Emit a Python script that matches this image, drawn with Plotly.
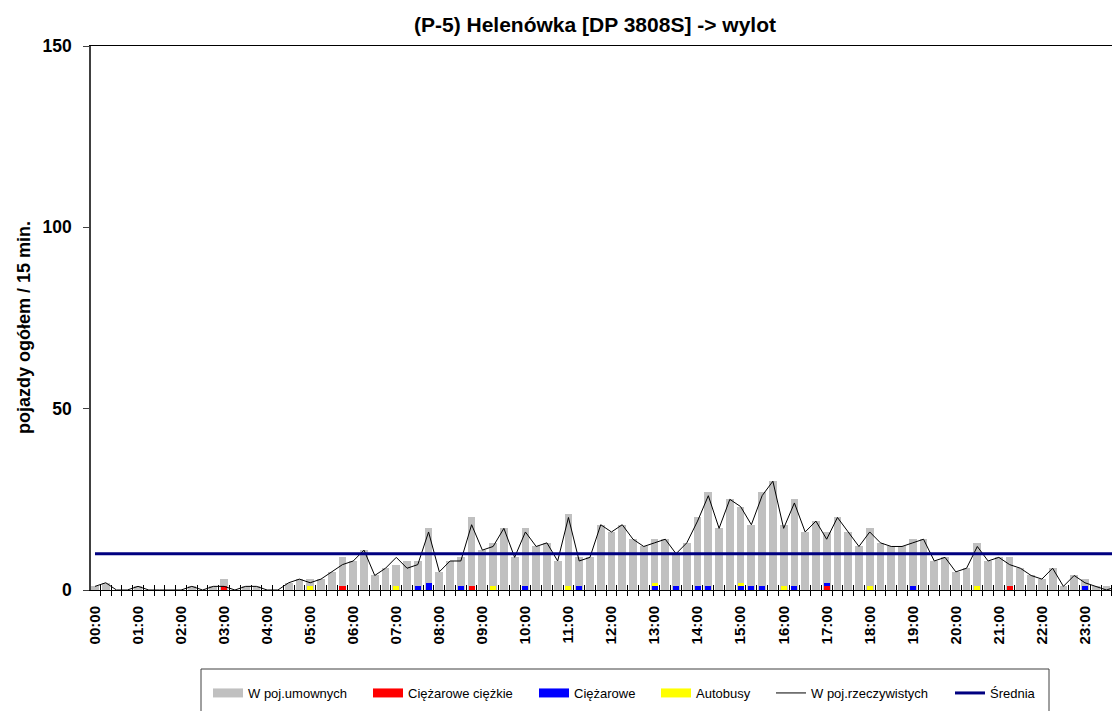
import plotly.graph_objects as go

# ---- data (15-minute intervals, 96 slots) ----
hour_labels = [f"{h:02d}:00" for h in range(24)]

# W poj.umownych (bars)
umowne = [
    1, 2, 0, 0, 1, 0, 0, 0, 0, 1, 0, 1,
    3, 0, 1, 1, 0, 0, 2, 3, 3, 3, 5, 9,
    8, 11, 4, 6, 7, 8, 8, 17, 5, 8, 9, 20,
    11, 13, 17, 9, 17, 12, 13, 8, 21, 9, 9, 18,
    16, 18, 14, 12, 14, 14, 10, 13, 20, 27, 17, 25,
    23, 18, 27, 30, 18, 25, 16, 19, 16, 20, 16, 12,
    17, 13, 12, 12, 14, 14, 8, 9, 5, 6, 13, 8,
    9, 9, 6, 4, 3, 6, 1, 4, 3, 1, 1, 1,
]
# W poj.rzeczywistych (line)
rzeczywiste = [
    1, 2, 0, 0, 1, 0, 0, 0, 0, 1, 0, 1,
    1, 0, 1, 1, 0, 0, 2, 3, 2, 3, 5, 7,
    8, 11, 4, 6, 9, 6, 7, 16, 5, 8, 8, 18,
    11, 12, 17, 9, 16, 12, 13, 8, 20, 8, 9, 18,
    16, 18, 14, 12, 13, 14, 10, 13, 19, 26, 17, 25,
    23, 18, 26, 30, 17, 24, 16, 19, 14, 20, 16, 12,
    16, 13, 12, 12, 13, 14, 8, 9, 5, 6, 12, 8,
    9, 7, 6, 4, 3, 6, 1, 4, 2, 1, 0, 1,
]
# Ciężarowe ciężkie
ciezkie = [
    0, 0, 0, 0, 0, 0, 0, 0, 0, 0, 0, 0,
    1, 0, 0, 0, 0, 0, 0, 0, 0, 0, 0, 1,
    0, 0, 0, 0, 0, 0, 0, 0, 0, 0, 0, 1,
    0, 0, 0, 0, 0, 0, 0, 0, 0, 0, 0, 0,
    0, 0, 0, 0, 0, 0, 0, 0, 0, 0, 0, 0,
    0, 0, 0, 0, 0, 0, 0, 0, 1, 0, 0, 0,
    0, 0, 0, 0, 0, 0, 0, 0, 0, 0, 0, 0,
    0, 1, 0, 0, 0, 0, 0, 0, 0, 0, 0, 0,
]
# Ciężarowe
ciezarowe = [
    0, 0, 0, 0, 0, 0, 0, 0, 0, 0, 0, 0,
    0, 0, 0, 0, 0, 0, 0, 0, 0, 0, 0, 0,
    0, 0, 0, 0, 0, 0, 1, 2, 0, 0, 1, 0,
    0, 0, 0, 0, 1, 0, 0, 0, 0, 1, 0, 0,
    0, 0, 0, 0, 1, 0, 1, 0, 1, 1, 0, 0,
    1, 1, 1, 0, 0, 1, 0, 0, 1, 0, 0, 0,
    0, 0, 0, 0, 1, 0, 0, 0, 0, 0, 0, 0,
    0, 0, 0, 0, 0, 0, 0, 0, 1, 0, 0, 0,
]
# Autobusy
autobusy = [
    0, 0, 0, 0, 0, 0, 0, 0, 0, 0, 0, 0,
    0, 0, 0, 0, 0, 0, 0, 0, 1, 0, 0, 0,
    0, 0, 0, 0, 1, 0, 0, 0, 0, 0, 0, 0,
    0, 1, 0, 0, 0, 0, 0, 0, 1, 0, 0, 0,
    0, 0, 0, 0, 1, 0, 0, 0, 0, 0, 0, 0,
    1, 0, 0, 0, 1, 0, 0, 0, 0, 0, 0, 0,
    1, 0, 0, 0, 0, 0, 0, 0, 0, 0, 1, 0,
    0, 0, 0, 0, 0, 0, 0, 0, 0, 0, 0, 0,
]
srednia = 10.0
y_ticks = [0, 50, 100, 150]

title_text = "(P-5) Helenówka [DP 3808S] -> wylot"
y_title = "pojazdy ogółem / 15 min."
legend_names = ["W poj.umownych", "Ciężarowe ciężkie", "Ciężarowe", "Autobusy",
                "W poj.rzeczywistych", "Średnia"]

# ---- styling / layout constants ----
FONT = "Liberation Sans, Arial, sans-serif"
GRAY, RED, BLUE, YELLOW, NAVY = "#C0C0C0", "#FF0000", "#0000FF", "#FFFF00", "#000080"
OFF = 8                      # page body margin
W, H = 1120 - OFF, 711 - OFF
PL, PT, PB = 91, 46, 590     # plot area in page pixels (left, top, bottom)
PR = 1120
PW, PH = PR - PL, PB - PT


def px(xp):   # page x -> paper x
    return (xp - PL) / PW


def py(yp):   # page y -> paper y
    return (PB - yp) / PH


n = len(umowne)
x = list(range(n))
base_blue = ciezkie
base_yellow = [a + b for a, b in zip(ciezkie, ciezarowe)]

fig = go.Figure()
fig.add_trace(go.Bar(x=x, y=umowne, width=0.72, marker=dict(color=GRAY, line_width=0),
                     name=legend_names[0], showlegend=False))
fig.add_trace(go.Bar(x=x, y=ciezkie, width=0.56, marker=dict(color=RED, line_width=0),
                     name=legend_names[1], showlegend=False))
fig.add_trace(go.Bar(x=x, y=ciezarowe, base=base_blue, width=0.56,
                     marker=dict(color=BLUE, line_width=0), name=legend_names[2], showlegend=False))
fig.add_trace(go.Bar(x=x, y=autobusy, base=base_yellow, width=0.56,
                     marker=dict(color=YELLOW, line_width=0), name=legend_names[3], showlegend=False))
fig.add_trace(go.Scatter(x=x, y=rzeczywiste, mode="lines", line=dict(color="black", width=1),
                         name=legend_names[4], showlegend=False))
fig.add_trace(go.Scatter(x=x, y=[srednia] * n, mode="lines", line=dict(color=NAVY, width=3),
                         name=legend_names[5], showlegend=False))

# legend entries (wide swatches like the original), one positioned legend each
leg_colors = [GRAY, RED, BLUE, YELLOW, "black", NAVY]
leg_widths = [9, 9, 9, 9, 1, 3]
leg_starts = [215, 375, 541, 663, 778, 957]   # swatch start, page px
legends = {}
for k, (name, color, w, xs) in enumerate(zip(legend_names, leg_colors, leg_widths, leg_starts)):
    key = "legend" if k == 0 else f"legend{k + 1}"
    fig.add_trace(go.Scatter(x=[None], y=[None], mode="lines", line=dict(color=color, width=w),
                             name=name, showlegend=True, legend=key))
    legends[key] = dict(orientation="h", x=px(xs - 7), xanchor="left",
                        y=py(678), yanchor="top", bgcolor="rgba(0,0,0,0)", borderwidth=0,
                        font=dict(size=13, family=FONT, color="black"), itemwidth=30)

# helper trace for inner tick marks
fig.add_trace(go.Scatter(x=[None], y=[None], xaxis="x2", showlegend=False, hoverinfo="skip"))

xr = [-0.372, 95.26]
boundaries = [i + 0.5 for i in range(n - 1)]

fig.update_layout(
    width=W, height=H,
    margin=dict(l=PL - OFF, r=0, t=PT - OFF, b=H - (PB - OFF), pad=0),
    paper_bgcolor="white", plot_bgcolor="white",
    barmode="overlay", bargap=0,
    font=dict(family=FONT, color="black"),
    title=dict(text="<b>" + title_text + "</b>", font=dict(size=21, family=FONT, color="black"),
               x=(595 - OFF) / W, xref="container", xanchor="center",
               y=1 - (25 - OFF) / H, yref="container", yanchor="middle"),
    xaxis=dict(range=xr, showgrid=False, zeroline=False,
               showline=True, linecolor="black", linewidth=1, mirror=True,
               tickmode="array", tickvals=list(range(0, n, 4)),
               ticktext=["<b>" + t + "</b>" for t in hour_labels],
               tickangle=-90, ticks="", tickfont=dict(size=15, family=FONT, color="black"),
               ticklabelstandoff=9,
               minor=dict(tickmode="array", tickvals=boundaries, ticks="outside",
                          ticklen=5, tickcolor="black", tickwidth=1, showgrid=False)),
    xaxis2=dict(range=xr, overlaying="x", anchor="y", side="bottom", showgrid=False,
                zeroline=False, showline=False, showticklabels=False,
                tickmode="array", tickvals=boundaries, ticks="inside", ticklen=5,
                tickcolor="black", tickwidth=1),
    yaxis=dict(range=[0, 150], showgrid=False, zeroline=False,
               showline=True, linecolor="#404040", linewidth=1.5,
               tickmode="array", tickvals=y_ticks,
               ticktext=["<b>" + str(v) + "</b>" for v in y_ticks],
               ticks="outside", ticklen=6, tickcolor="#404040",
               tickfont=dict(size=17.5, family=FONT, color="black"), ticklabelstandoff=8),
    annotations=[dict(text="<b>" + y_title + "</b>", textangle=-90, showarrow=False,
                      xref="paper", yref="paper", x=px(24), y=py(328),
                      xanchor="center", yanchor="middle",
                      font=dict(size=18, family=FONT, color="black"))],
    shapes=[dict(type="rect", xref="paper", yref="paper",
                 x0=px(201), x1=px(1049), y0=py(669), y1=py(730),
                 line=dict(color="#404040", width=1), fillcolor="rgba(0,0,0,0)", layer="above")],
    showlegend=True,
    **legends,
)

fig.write_html("out.html")
